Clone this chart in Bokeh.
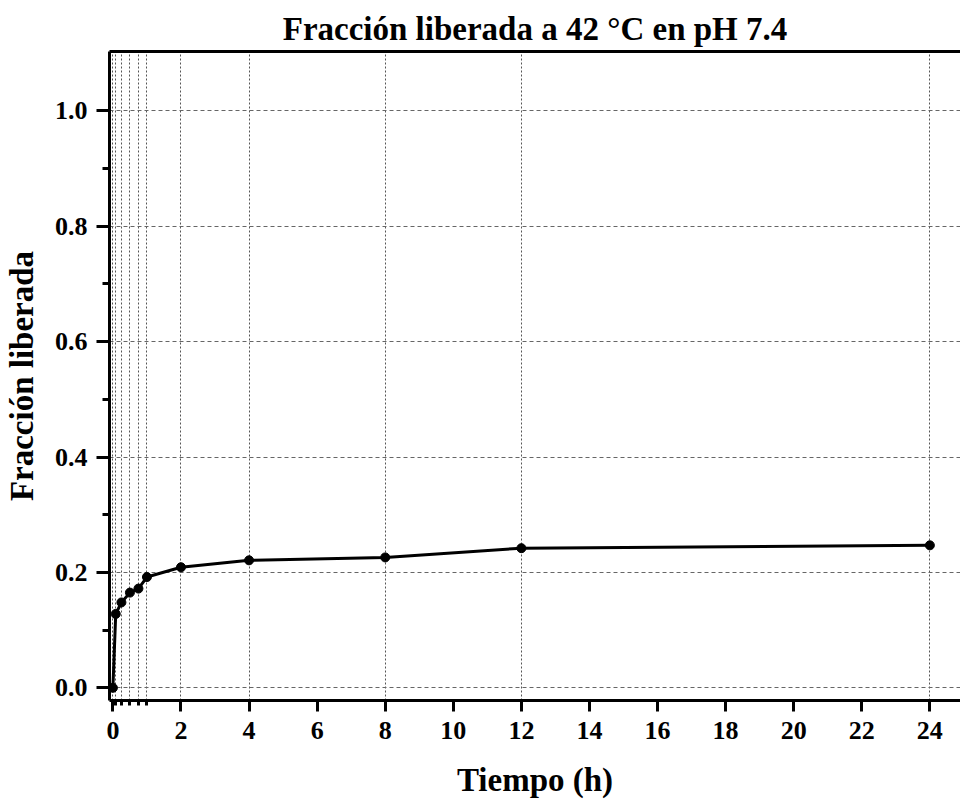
from bokeh.plotting import figure
from bokeh.models import FixedTicker, LinearAxis, Range1d, CustomJSTickFormatter
from bokeh.embed import file_html
from bokeh.resources import INLINE

# Data
time_h = [0, 0.083, 0.25, 0.5, 0.75, 1, 2, 4, 8, 12, 24]
fraccion = [0.0, 0.128, 0.148, 0.165, 0.172, 0.192, 0.209, 0.221, 0.226, 0.242, 0.247]
x_major = [0, 2, 4, 6, 8, 10, 12, 14, 16, 18, 20, 22, 24]
x_minor = [0.083, 0.25, 0.5, 0.75, 1]
y_major = [0.0, 0.2, 0.4, 0.6, 0.8, 1.0]
y_minor = [0.1, 0.3, 0.5, 0.7, 0.9]
title_text = "Fracción liberada a 42 °C en pH 7.4"

FONT = "Liberation Serif"

p = figure(width=960, height=805, output_backend="svg", toolbar_location=None,
           x_range=Range1d(-0.1, 24.9), y_range=Range1d(-0.022, 1.103),
           x_axis_location=None, y_axis_location=None,
           min_border_left=108, min_border_right=0, min_border_top=51, min_border_bottom=105)
p.outline_line_color = None
p.background_fill_color = "white"
p.border_fill_color = "white"

p.title.text = title_text
p.title.align = "center"
p.title.text_font = FONT
p.title.text_font_size = "33px"
p.title.text_font_style = "bold"
p.title.text_color = "black"
p.title.standoff = 9

# Axes
xax = LinearAxis(ticker=FixedTicker(ticks=x_major, minor_ticks=x_minor))
xax.axis_label = "Tiempo (h)"
yax = LinearAxis(ticker=FixedTicker(ticks=y_major, minor_ticks=y_minor))
yax.axis_label = "Fracción liberada"
yax.formatter = CustomJSTickFormatter(code="return tick.toFixed(1);")
for ax in (xax, yax):
    ax.axis_line_width = 3
    ax.axis_line_color = "black"
    ax.major_tick_line_width = 3
    ax.minor_tick_line_width = 3
    ax.major_tick_in = 0
    ax.minor_tick_in = 0
    ax.major_label_text_font = FONT
    ax.major_label_text_font_style = "bold"
    ax.major_label_text_font_size = "26px"
    ax.major_label_text_color = "black"
    ax.axis_label_text_font = FONT
    ax.axis_label_text_font_style = "bold"
    ax.axis_label_text_font_size = "33px"
    ax.axis_label_text_color = "black"
xax.major_tick_out = 11
xax.minor_tick_out = 5
xax.major_label_standoff = 10
xax.axis_label_standoff = 20
yax.major_tick_out = 13
yax.minor_tick_out = 7
yax.major_label_standoff = 9
yax.axis_label_standoff = 12
p.add_layout(xax, "below")
p.add_layout(yax, "left")

top = LinearAxis(ticker=FixedTicker(ticks=[]), axis_line_width=3, axis_line_color="black",
                 major_label_text_font_size="0px", major_tick_line_color=None,
                 minor_tick_line_color=None)
p.add_layout(top, "above")

# Grid
p.xgrid.ticker = FixedTicker(ticks=time_h)
p.xgrid.grid_line_color = "#555555"
p.xgrid.grid_line_dash = "2 2"
p.xgrid.grid_line_width = 1
p.ygrid.ticker = FixedTicker(ticks=y_major)
p.ygrid.grid_line_color = "#666666"
p.ygrid.grid_line_dash = "4 3"
p.ygrid.grid_line_width = 1.2

# Data
p.line(time_h, fraccion, line_color="black", line_width=3)
p.scatter(time_h, fraccion, size=9, fill_color="black", line_color="black")

open("out.html", "w").write(file_html(p, INLINE))
